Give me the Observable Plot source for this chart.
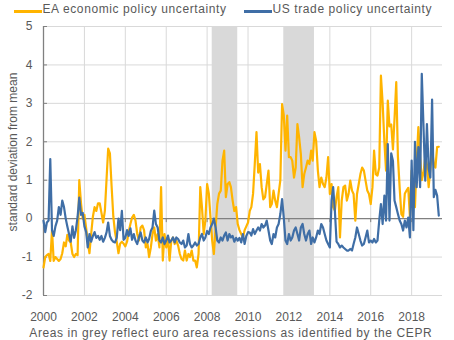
<!DOCTYPE html>
<html><head><meta charset="utf-8">
<script src="https://cdn.jsdelivr.net/npm/d3@7"></script>
<script src="https://cdn.jsdelivr.net/npm/@observablehq/plot@0.6"></script>
<style>
body{margin:0;background:#fff;}
#wrap{position:relative;width:454px;height:340px;overflow:hidden;font-family:"Liberation Sans",Arial,sans-serif;color:#595959;}
#chart{position:absolute;left:0;top:0;}
.lt{position:absolute;font-size:12px;line-height:14px;letter-spacing:0.6px;white-space:nowrap;}
.sw{position:absolute;height:3px;width:28px;}
</style></head>
<body><div id="wrap">
<div id="chart"></div>
<div class="sw" id="sw0" style="left:14px;top:9.5px;"></div><div class="lt" id="lt0" style="left:42.5px;top:2.3px;"></div>
<div class="sw" id="sw1" style="left:244px;top:9.5px;"></div><div class="lt" id="lt1" style="left:272.5px;top:2.3px;"></div>
<div class="lt" id="cap" style="left:29.3px;top:325.5px;"></div>
</div>
<script>
const seriesNames = ["EA economic policy uncertainty", "US trade policy uncertainty"];
const seriesColors = ["#FFB400", "#3F6EA6"];
const startYear = 2000, startMonth = 0;
const ea = [
-1.27,-1.0,-0.95,-0.92,-1.1,-0.3,-1.1,-1.0,-1.05,-1.1,
-1.05,-0.9,-0.62,-0.72,-0.42,-0.57,-0.62,-0.92,-1.0,-0.92,
-0.95,1.0,0.4,0.0,0.1,-0.25,-0.6,-0.9,-0.4,0.05,
0.3,0.2,0.4,0.4,0.15,-0.1,0.2,1.05,1.82,1.7,
0.85,0.05,-0.35,-0.6,-0.9,-0.65,-0.6,-0.65,-0.72,-0.6,
-0.35,-0.14,0.03,0.1,-0.05,-0.4,-0.57,-0.23,-0.18,-0.3,
-0.75,-0.66,-1.0,-0.75,-0.4,-0.23,-0.57,-0.4,-0.75,0.82,
-1.09,-0.4,-0.75,-0.49,-1.09,-0.57,-0.49,-0.66,-0.57,-0.7,
-0.92,-1.05,-1.09,-0.83,-1.09,-0.92,-1.0,-0.83,-1.09,-1.09,
-1.27,-0.92,0.82,0.3,-0.4,-0.05,0.9,0.65,0.03,-0.57,
-0.92,-0.23,0.38,0.65,0.73,1.5,1.77,0.56,0.9,0.95,
0.82,0.47,0.2,0.3,-0.14,-0.3,-0.4,-0.49,-0.3,-0.2,
-0.1,0.2,0.3,0.65,1.42,2.25,1.2,1.42,0.82,0.5,
0.56,0.9,1.25,0.3,0.38,0.73,0.47,0.3,0.65,1.0,
2.98,2.7,1.77,2.68,1.6,1.6,1.51,1.07,1.33,2.46,
2.12,1.68,0.82,1.16,1.33,1.51,1.42,1.77,1.51,2.25,
2.03,1.25,0.82,1.07,0.9,0.82,1.07,1.6,0.64,0.9,
0.3,0.21,0.56,0.82,-0.49,0.47,0.82,0.86,0.47,0.64,
0.99,0.73,0.64,-0.05,0.64,0.9,1.16,1.33,1.25,0.99,
0.73,0.64,0.38,0.82,1.77,1.16,1.12,1.33,3.72,3.0,
2.0,1.25,3.07,2.4,2.45,1.8,2.6,3.55,1.6,0.8,
0.12,0.05,0.65,0.73,0.8,0.05,1.25,0.65,0.3,1.5,
2.38,1.6,1.0,1.2,1.6,1.4,0.82,1.3,1.8,1.4,
1.33,1.86,1.87];
const us = [
-0.05,-0.35,-0.1,-0.05,1.55,-0.3,-0.45,-0.2,-0.05,0.3,
0.1,0.47,0.3,0.0,-0.2,-0.4,-0.6,-0.2,-0.5,-0.3,
0.05,0.55,0.1,0.15,-0.2,-0.35,-0.75,-0.4,-0.6,-0.45,
-0.35,-0.5,-0.45,-0.55,-0.45,-0.6,-0.5,-0.35,-0.1,-0.45,
-0.55,-0.6,-0.62,-0.5,0.0,-0.3,0.2,-0.55,-0.5,-0.3,
-0.45,-0.25,-0.55,-0.4,-0.57,-0.66,-0.49,-0.36,-0.57,-0.62,
-0.49,-0.62,-0.53,-0.32,-0.23,0.21,-0.14,-0.23,-0.57,-0.62,
-0.49,-0.66,-0.57,-0.44,-0.62,-0.57,-0.49,-0.62,-0.49,-0.53,
-0.62,-0.66,-0.57,-0.75,-0.7,-0.4,-0.66,-0.75,-0.7,-0.62,
-0.7,-0.66,-0.49,-0.4,-0.57,-0.49,-0.32,-0.4,-0.23,-0.14,
0.0,-0.23,-0.57,-0.62,-0.49,-0.57,-0.44,-0.36,-0.57,-0.4,
-0.49,-0.45,-0.6,-0.5,-0.57,-0.5,-0.62,-0.4,-0.66,-0.45,
-0.35,-0.36,-0.44,-0.27,-0.4,-0.31,-0.23,-0.31,-0.14,-0.23,
-0.18,-0.05,-0.31,-0.57,-0.66,-0.4,-0.49,-0.23,-0.14,0.12,
0.51,0.03,-0.57,-0.66,-0.4,-0.57,-0.49,-0.31,-0.23,-0.4,
-0.57,-0.23,-0.14,-0.4,-0.57,-0.4,-0.31,-0.66,-0.49,-0.62,
-0.49,-0.31,-0.4,-0.14,-0.23,-0.4,-0.57,-0.66,-0.75,0.47,
0.82,0.2,-0.6,-0.66,-0.75,-0.7,-0.75,-0.79,-0.83,-0.83,
-0.79,-0.83,-0.66,-0.49,-0.23,-0.4,-0.57,-0.7,-0.66,-0.49,
-0.31,-0.62,-0.57,-0.62,-0.53,-0.62,-0.57,-0.05,0.38,-0.14,
0.6,-0.05,1.94,-0.05,1.7,1.5,0.47,0.3,0.12,-0.05,
-0.14,-0.31,-0.05,-0.23,0.03,-0.49,1.51,-0.3,2.0,0.82,
1.86,0.82,3.77,2.38,0.99,2.46,1.3,1.07,3.1,0.56,
0.75,0.6,0.08];
const xTickYears = [2000,2002,2004,2006,2008,2010,2012,2014,2016,2018];
const yTicks = [-2,-1,0,1,2,3,4,5];
const recessionStarts = ["2008-04-01","2011-10-01"];
const recessionEnds = ["2009-07-01","2013-04-01"];
const yLabel = "standard deviation from mean";
const caption = "Areas in grey reflect euro area recessions as identified by the CEPR";

const dates = ea.map((_, i) => new Date(startYear, startMonth + i, 1));
const eaData = ea.map((v, i) => ({date: dates[i], value: v}));
const usData = us.map((v, i) => ({date: dates[i], value: v}));
const xTicks = xTickYears.map(y => new Date(y, 0, 1));
const gridDates = xTicks.slice(1);
const x0 = xTicks[0];
const recessions = recessionStarts.map((s, i) => ({start: new Date(s + "T00:00"), end: new Date(recessionEnds[i] + "T00:00")}));
const axisGrey = "#808080", gridGrey = "#d9d9d9";

const plot = Plot.plot({
  width: 454, height: 340,
  marginLeft: 43, marginRight: 12, marginTop: 26, marginBottom: 45,
  style: {fontFamily: '"Liberation Sans", Arial, sans-serif', fontSize: "12px", color: "#595959", background: "#fff", overflow: "visible"},
  x: {type: "time", domain: [x0, new Date(2019, 6, 6)], ticks: xTicks, tickFormat: d3.timeFormat("%Y"), tickSize: 0, tickPadding: 17, label: null},
  y: {domain: [-2, 5], ticks: yTicks, tickFormat: d => String(d), tickSize: 0, tickPadding: 11, label: null},
  marks: [
    Plot.ruleY(yTicks.filter(v => v !== 0), {stroke: gridGrey, strokeWidth: 1}),
    Plot.ruleX(gridDates, {stroke: gridGrey, strokeWidth: 1}),
    Plot.rect(recessions, {x1: "start", x2: "end", fill: "#d9d9d9"}),
    Plot.ruleY([0], {stroke: axisGrey, strokeWidth: 1.3}),
    Plot.ruleX([x0], {stroke: axisGrey, strokeWidth: 1.3}),
    Plot.ruleY(yTicks, {x1: x0, x2: x0, insetRight: -4, stroke: axisGrey}),
    Plot.ruleX(xTicks, {y1: 0, y2: 0, insetBottom: -4, stroke: axisGrey}),
    Plot.line(eaData, {x: "date", y: "value", stroke: seriesColors[0], strokeWidth: 2.2, strokeLinejoin: "round"}),
    Plot.line(usData, {x: "date", y: "value", stroke: seriesColors[1], strokeWidth: 2.2, strokeLinejoin: "round"}),
    Plot.text([yLabel], {frameAnchor: "left", dx: -30.5, dy: -9, rotate: -90, text: d => d, fill: "#595959", fontSize: 12, textAnchor: "middle", lineAnchor: "middle"})
  ]
});
document.getElementById("chart").appendChild(plot);
document.getElementById("sw0").style.background = seriesColors[0];
document.getElementById("sw1").style.background = seriesColors[1];
document.getElementById("lt0").textContent = seriesNames[0];
document.getElementById("lt1").textContent = seriesNames[1];
document.getElementById("cap").textContent = caption;
</script>
</body></html>
